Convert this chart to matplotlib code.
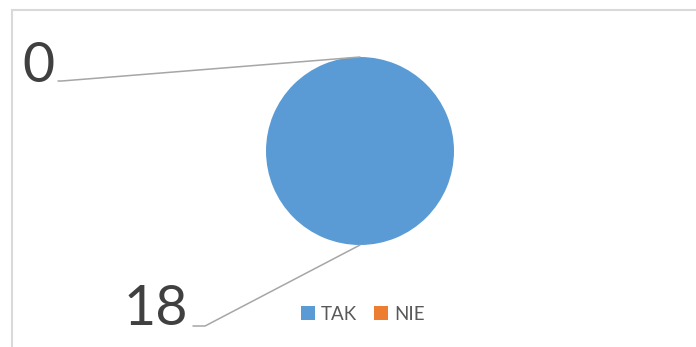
import numpy as np
import matplotlib.pyplot as plt
from matplotlib.patches import ConnectionPatch, Rectangle

categories = ['TAK', 'NIE']
values = [18, 0]
colors = ['#5B9BD5', '#ED7D31']

plt.rcParams['font.family'] = ['Lato', 'DejaVu Sans']

W, H = 696, 347
fig = plt.figure(figsize=(W / 100, H / 100), dpi=100)

# pie placed in pixel box: center (360,151), radius 94 (image coords)
cx, cy, r = 360, 151, 94
ax = fig.add_axes([(cx - r) / W, (H - cy - r) / H, 2 * r / W, 2 * r / H])
wedges, _ = ax.pie(values, colors=colors, startangle=90, counterclock=False,
                   radius=1, wedgeprops=dict(linewidth=0))
ax.set_xlim(-1, 1)
ax.set_ylim(-1, 1)
ax.set_aspect('equal')
ax.axis('off')

# data labels with leader lines (text anchor in figure pixels, y up)
label_pos = {'NIE': ((22, 265), (58, 266), 4.6), 'TAK': ((124, 22), (193, 21), 27.6)}
for w, cat, v in zip(wedges, categories, values):
    (tx, ty), (lx, ly), angB = label_pos[cat]
    mid = np.deg2rad((w.theta1 + w.theta2) / 2)
    if w.theta1 == w.theta2:
        mid = np.deg2rad(w.theta1)
    px, py = w.r * np.cos(mid), w.r * np.sin(mid)
    fig.text(tx / W, ty / H, str(v), fontsize=40, color='#404040',
             ha='left', va='baseline')
    con = ConnectionPatch(xyA=(lx, ly), coordsA='figure pixels',
                          xyB=(px, py), coordsB=ax.transData,
                          connectionstyle=f'angle,angleA=0,angleB={angB},rad=0',
                          color='#a6a6a6', lw=1.1)
    fig.add_artist(con)

fig.legend(wedges, categories, loc='center', bbox_to_anchor=(363 / W, 33 / H),
           ncol=2, frameon=False, fontsize=13.5, labelcolor='#595959',
           handlelength=0.75, handleheight=0.7, handletextpad=0.33,
           columnspacing=0.9)

# chart area border (only left and top visible)
fig.add_artist(Rectangle((12 / W, -0.1), 1.2, 1.1 - 10 / H, transform=fig.transFigure,
                         fill=False, edgecolor='#d9d9d9', lw=1.5))

fig.savefig('out.png', dpi=100)
